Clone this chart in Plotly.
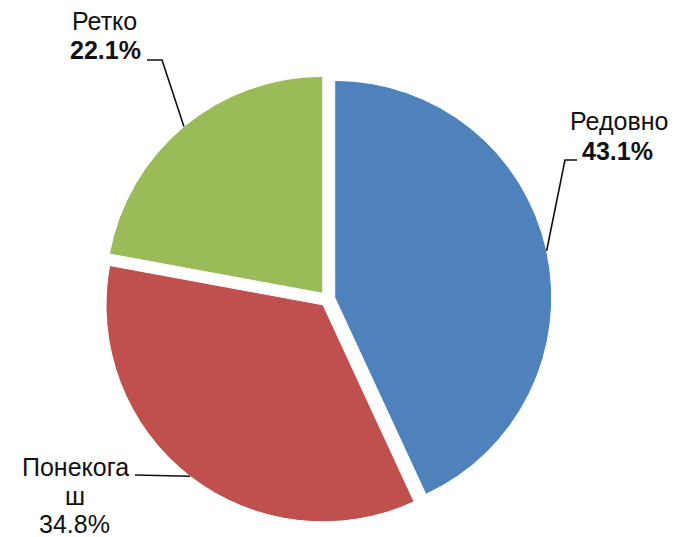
import math
import plotly.graph_objects as go

labels = ["Редовно", "Понекогаш", "Ретко"]
values = [43.1, 34.8, 22.1]
label_text = [["Редовно", "<b>43.1%</b>"], ["Понекога", "ш", "34.8%"], ["Ретко", "<b>22.1%</b>"]]
colors = ["#4F81BD", "#C0504D", "#9BBB59"]

W, H = 677, 537
cx, cy = 327.5, 299.0
R = 217.0
pull = 0.034
half = R * (1 + pull)

def px(x, y):
    return x / W, 1 - y / H

dom_x = [(cx - half) / W, (cx + half) / W]
dom_y = [1 - (cy + half) / H, 1 - (cy - half) / H]

fig = go.Figure(go.Pie(
    labels=labels, values=values, sort=False, direction="clockwise", rotation=0,
    marker=dict(colors=colors, line=dict(color="white", width=1)),
    pull=[pull] * len(values), textinfo="none", hoverinfo="skip",
    domain=dict(x=dom_x, y=dom_y), showlegend=False,
))

# per-line label centres (px) and leader line start points (px)
label_pos = [[(619, 121), (617.5, 151)],
             [(75.5, 466.5), (75, 496), (74, 524)],
             [(104.5, 20.5), (105, 50.5)]]
line_start = [[(577, 160), (565, 160)], [(135, 475)], [(147, 60), (162, 60)]]

total = sum(values)
cum = 0.0
shapes = []
annotations = []
for i, v in enumerate(values):
    theta = 2 * math.pi * (cum + v / 2) / total
    cum += v
    ex = cx + half * math.sin(theta)
    ey = cy - half * math.cos(theta)
    pts = line_start[i] + [(ex, ey)]
    path = ""
    for j, (x, y) in enumerate(pts):
        X, Y = px(x, y)
        path += ("M" if j == 0 else " L") + f"{X:.5f},{Y:.5f}"
    shapes.append(dict(type="path", xref="paper", yref="paper", path=path,
                       line=dict(color="#111111", width=1.6)))
    for t, (x, y) in zip(label_text[i], label_pos[i]):
        lx, ly = px(x, y)
        annotations.append(dict(x=lx, y=ly, xref="paper", yref="paper", text=t,
                                showarrow=False, xanchor="center", yanchor="middle",
                                font=dict(family="Arial, Liberation Sans, sans-serif",
                                          size=25, color="#111111")))

fig.update_layout(
    width=W, height=H, margin=dict(l=0, r=0, t=0, b=0),
    paper_bgcolor="white", plot_bgcolor="white",
    shapes=shapes, annotations=annotations,
)
fig.write_html("out.html", config={"displayModeBar": False},
               post_script="document.body.style.margin='0px';document.body.style.padding='0px';")
